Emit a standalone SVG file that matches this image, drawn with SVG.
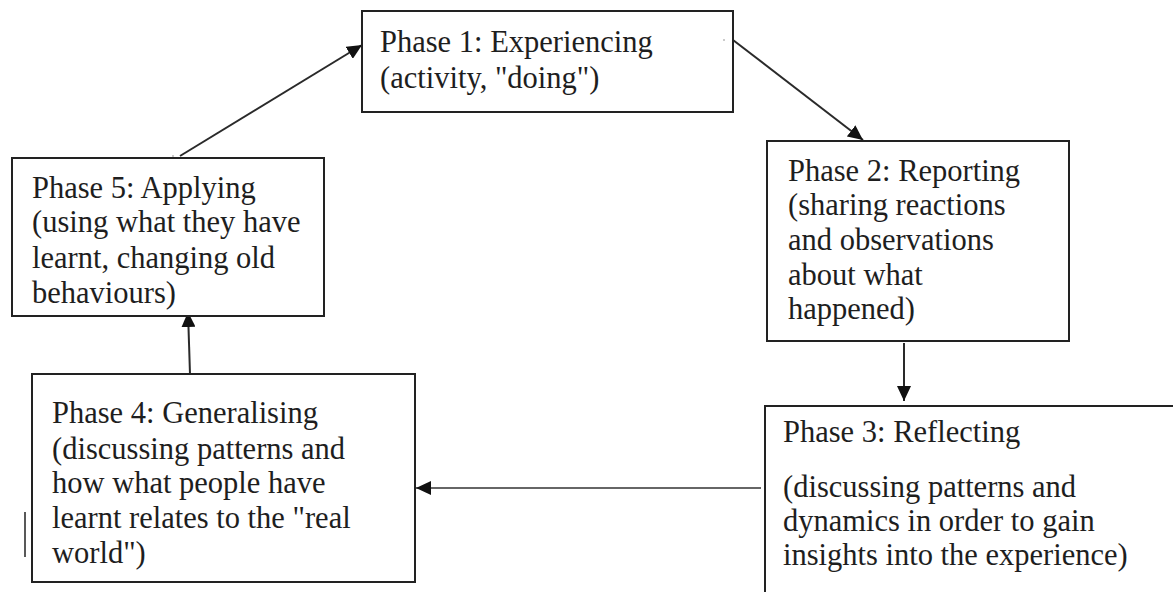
<svg xmlns="http://www.w3.org/2000/svg" width="1173" height="592" viewBox="0 0 1173 592">
<style>
  .box { fill: #ffffff; stroke: #222222; stroke-width: 2; }
  .lbl { font-family: "Liberation Serif", "Times New Roman", serif; font-size: 30.5px; fill: #1e1e1e; }
  .conn { stroke: #2a2a2a; stroke-width: 2; fill: none; marker-end: url(#arr); }
  .conn-light { stroke: #666666; stroke-width: 2; fill: none; marker-end: url(#arr); }
</style>
<defs>
  <marker id="arr" markerUnits="userSpaceOnUse" markerWidth="16" markerHeight="14" refX="15" refY="7" orient="auto">
    <path d="M0,0 L15,7 L0,14 Z" fill="#111111"/>
  </marker>
</defs>
<rect width="1173" height="592" fill="#ffffff"/>

<g id="connectors">
  <line class="conn" x1="180" y1="156" x2="362" y2="45"/>
  <line class="conn" x1="733" y1="40" x2="863" y2="140"/>
  <line class="conn" x1="904" y1="343" x2="904" y2="401"/>
  <line class="conn-light" x1="761" y1="488" x2="416" y2="488"/>
  <line class="conn" x1="190" y1="374" x2="188" y2="312"/>
</g>

<g id="phase1">
  <rect class="box" x="362" y="11" width="371" height="101"/>
  <text class="lbl" x="380" y="52">Phase 1: Experiencing</text>
  <text class="lbl" x="380" y="88">(activity, "doing")</text>
</g>

<g id="phase2">
  <rect class="box" x="767" y="141" width="302" height="200"/>
  <text class="lbl" x="788" y="181">Phase 2: Reporting</text>
  <text class="lbl" x="788" y="215">(sharing reactions</text>
  <text class="lbl" x="788" y="250">and observations</text>
  <text class="lbl" x="788" y="285">about what</text>
  <text class="lbl" x="788" y="319">happened)</text>
</g>

<g id="phase3">
  <rect class="box" x="765" y="406" width="430" height="210"/>
  <text class="lbl" x="783" y="442">Phase 3: Reflecting</text>
  <text class="lbl" x="783" y="497">(discussing patterns and</text>
  <text class="lbl" x="783" y="531">dynamics in order to gain</text>
  <text class="lbl" x="783" y="565">insights into the experience)</text>
</g>

<g id="phase4">
  <rect class="box" x="32" y="374" width="383" height="208"/>
  <text class="lbl" x="52" y="423">Phase 4: Generalising</text>
  <text class="lbl" x="52" y="459">(discussing patterns and</text>
  <text class="lbl" x="52" y="493">how what people have</text>
  <text class="lbl" x="52" y="528">learnt relates to the "real</text>
  <text class="lbl" x="52" y="563">world")</text>
</g>

<g id="phase5">
  <rect class="box" x="12" y="158" width="312" height="158"/>
  <text class="lbl" x="32" y="198">Phase 5: Applying</text>
  <text class="lbl" x="32" y="232">(using what they have</text>
  <text class="lbl" x="32" y="268">learnt, changing old</text>
  <text class="lbl" x="32" y="303">behaviours)</text>
</g>

<line x1="25" y1="512" x2="25" y2="557" stroke="#222222" stroke-width="1.5"/>
<circle cx="724" cy="40" r="0.8" fill="#888888"/>
<circle cx="173" cy="156" r="0.8" fill="#888888"/>
</svg>
